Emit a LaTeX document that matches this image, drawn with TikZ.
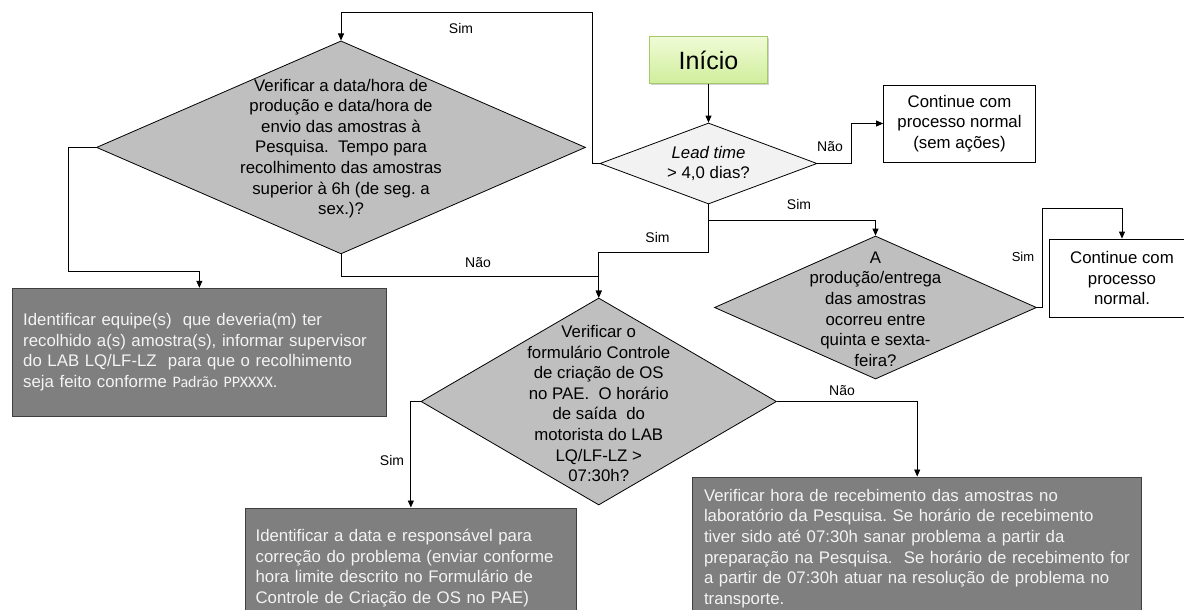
\documentclass[tikz,border=0pt]{standalone}
\usepackage{fontspec}
\setmainfont{Liberation Sans}
\newfontfamily\calib{Carlito}
\usetikzlibrary{arrows.meta,shapes.geometric,shadows}
\definecolor{diagray}{HTML}{BFBFBF}
\definecolor{leadfill}{HTML}{F2F2F2}
\definecolor{boxgray}{HTML}{7F7F7F}
\definecolor{boxborder}{HTML}{3F3F3F}
\definecolor{boxtext}{HTML}{F4F4F4}
\definecolor{inTop}{HTML}{F0FBD6}
\definecolor{inBot}{HTML}{D0EE9C}
\definecolor{inBorder}{HTML}{A4C96A}
\frenchspacing
\begin{document}
\begin{tikzpicture}[x=1pt,y=-1pt,
  dia/.style={diamond, draw=black, line width=0.8pt, fill=diagray, inner sep=0pt},
  txt/.style={font=\fontsize{16.8}{20.6}\selectfont, align=center, inner sep=0pt},
  wbox/.style={rectangle, draw=black, line width=0.8pt, fill=white, inner sep=0pt,
    font=\fontsize{16.8}{20.6}\selectfont, align=center},
  dbox/.style={rectangle, draw=boxborder, line width=1pt, fill=boxgray, inner ysep=0pt,
    text=boxtext, font=\fontsize{16.8}{20.6}\selectfont, align=left},
  lbl/.style={font=\fontsize{14}{16}\selectfont, inner sep=0pt},
  arr/.style={draw=black, line width=0.8pt, -{Triangle[length=7pt,width=6pt]}}]
\clip (0,0) rectangle (1184,610);
\fill[white] (0,0) rectangle (1184,610);

% start
\node[rectangle, draw=inBorder, line width=0.8pt, top color=inTop, bottom color=inBot,
  minimum width=118pt, minimum height=46.6pt, inner sep=0pt,
  drop shadow={shadow xshift=1.5pt, shadow yshift=-1.5pt, opacity=0.35},
  font=\fontsize{25}{28}\selectfont] (init) at (708.5,60) {Início};

% decisions
\node[dia, fill=leadfill, minimum width=217pt, minimum height=81pt] (lead) at (708.5,163.5) {};
\node[txt] (leadt) at (lead) {{\itshape Lead time}\\> 4,0 dias?};

\node[dia, minimum width=489pt, minimum height=213pt] (d1) at (341,147.4) {};
\node[txt] (d1t) at (341,148.5) {Verificar a data/hora de\\produção e data/hora de\\envio das amostras à\\Pesquisa.\ \ Tempo para\\recolhimento das amostras\\superior à 6h (de seg. a\\sex.)?};

\node[dia, minimum width=322pt, minimum height=143pt] (dA) at (875.5,307.5) {};
\node[txt] (dAt) at (875.5,309) {A\\produção/entrega\\das amostras\\ocorreu entre\\quinta e sexta-\\feira?};

\node[dia, minimum width=355.5pt, minimum height=207pt] (d3) at (598.75,401.5) {};
\node[txt] (d3t) at (598.75,403.5) {Verificar o\\formulário Controle\\de criação de OS\\no PAE.\ \ O horário\\de saída\ \ do\\motorista do LAB\\LQ/LF-LZ >\\07:30h?};

% white boxes
\node[wbox, minimum width=152pt, minimum height=77pt] (cont1) at (959.5,123.5) {Continue com\\processo normal\\(sem ações)};
\node[wbox, minimum width=146pt, minimum height=78pt] (cont2) at (1122,278) {Continue com\\processo\\normal.};

% dark boxes
\node[dbox, inner xsep=11pt, text width=352.3pt, minimum height=127.7pt] (box1) at (199.35,352.15)
 {Identificar equipe(s)\ \ que deveria(m) ter\\recolhido a(s) amostra(s), informar supervisor\\do LAB LQ/LF-LZ\ \ para que o recolhimento\\seja feito conforme {\calib\fontsize{16}{20.6}\selectfont Padrão PPXXXX.}};
\node[dbox, inner xsep=10.6pt, text width=310.5pt, minimum height=120pt] (box3) at (410.85,568)
 {Identificar a data e responsável para\\correção do problema (enviar conforme\\hora limite descrito no Formulário de\\Controle de Criação de OS no PAE)};
\node[dbox, inner xsep=11.3pt, text width=426.4pt, minimum height=143pt] (box4) at (917.2,548.5)
 {Verificar hora de recebimento das amostras no\\laboratório da Pesquisa. Se horário de recebimento\\tiver sido até 07:30h sanar problema a partir da\\preparação na Pesquisa.\ \ Se horário de recebimento for\\a partir de 07:30h atuar na resolução de problema no\\transporte.};

% helper points
\coordinate (loopTop) at (592,12);
\coordinate (leftDown) at (68,271);
\coordinate (rightUp) at (1042.7,208);

% connectors
\draw[arr] (init) -- (lead.north);
\draw[arr] (lead.east) -- ++(33.5,0) |- (cont1.west);
\draw[arr] (lead.west) -| (loopTop) -| (d1.north);
\draw[arr] (d1.west) -| (leftDown) -| (box1.north);
\draw[arr] (d1.south) -- ++(0,22) -| (d3.north);
\draw[arr] (lead.south) -- ++(0,16) -| (dA.north);
\draw[arr] (lead.south) -- ++(0,48) -| (d3.north);
\draw[arr] (dA.east) -| (rightUp) -| (cont2.north);
\draw[arr] (d3.west) -| (box3.north);
\draw[arr] (d3.east) -| (box4.north);

% labels
\node[lbl] (l1) at (461,28) {Sim};
\node[lbl] (l2) at (830,147) {Não};
\node[lbl] (l3) at (799,204) {Sim};
\node[lbl] (l4) at (657.5,237) {Sim};
\node[lbl] (l5) at (478,263) {Não};
\node[lbl, font=\fontsize{13}{15}\selectfont] (l6) at (1023,257) {Sim};
\node[lbl] (l7) at (842,391) {Não};
\node[lbl] (l8) at (392,460) {Sim};
\end{tikzpicture}
\end{document}
